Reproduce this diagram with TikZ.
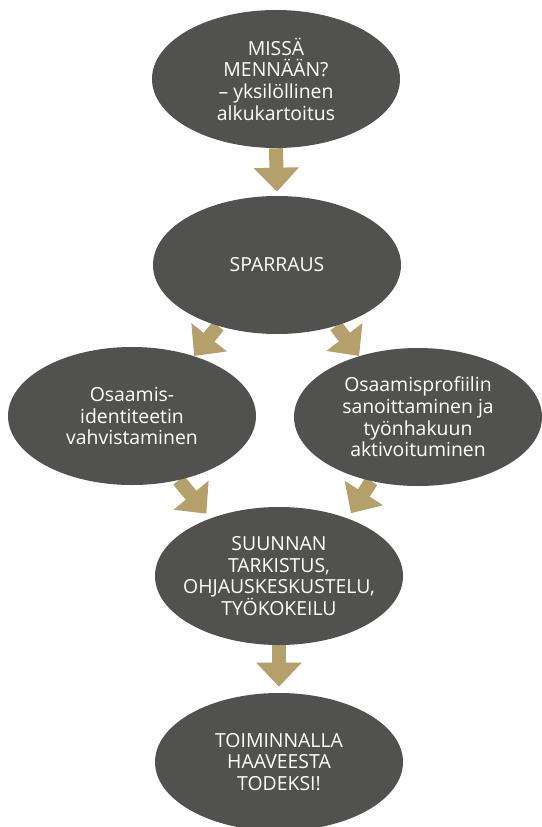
\documentclass[tikz,border=0pt]{standalone}
\usepackage{fontspec}
\setmainfont{Open Sans}
\usepackage{tikz}
\usetikzlibrary{arrows.meta, shapes.geometric, backgrounds}
\definecolor{StepGrey}{HTML}{51514F}
\definecolor{FlowGold}{HTML}{B4A06B}

\begin{document}
\begin{tikzpicture}[
    phase/.style={ellipse, fill=StepGrey, text=white, minimum width=6.2cm, minimum height=3.45cm,
                  inner xsep=-0.4cm, inner ysep=0pt, align=center, font=\fontsize{13.8}{15.4}\selectfont},
    flow/.style={line width=0.35cm, color=FlowGold, -{Triangle[width=1.1cm, length=0.6cm]}}
]
    \useasboundingbox (0,0) rectangle (13.55,-20.675);
    % path steps
    \node[phase] (start) at (6.9,-1.975) {MISSÄ\\MENNÄÄN?\\– yksilöllinen\\alkukartoitus};
    \node[phase] (spar) at (6.925,-6.625) {SPARRAUS};
    \node[phase] (ident) at (3.3,-10.4) {Osaamis-\\identiteetin\\vahvistaminen};
    \node[phase] (profile) at (10.45,-10.425) {Osaamisprofiilin\\sanoittaminen ja\\työnhakuun\\aktivoituminen};
    \node[phase] (check) at (6.975,-14.4) {SUUNNAN\\TARKISTUS,\\OHJAUSKESKUSTELU,\\TYÖKOKEILU};
    \node[phase] (goal) at (6.975,-19.05) {TOIMINNALLA\\HAAVEESTA\\TODEKSI!};
    % arrows behind the ellipses
    \begin{scope}[on background layer]
        \draw[flow, shorten >=0.1cm] (start.south) -- (spar.north);
        \draw[flow] (spar.226) -- (ident.44);
        \draw[flow] (spar.314) -- (profile.134);
        \draw[flow, shorten >=0.15cm] (ident.306) -- (check.140);
        \draw[flow, shorten >=0.15cm] (profile.234) -- (check.40);
        \draw[flow, shorten >=0.15cm] (check.south) -- (goal.north);
    \end{scope}
\end{tikzpicture}
\end{document}
